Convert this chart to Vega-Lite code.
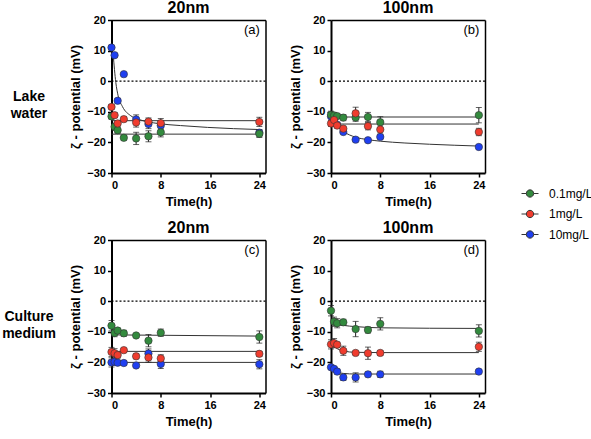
{
"$schema": "https://vega.github.io/schema/vega-lite/v6.json",
"padding": {"left": 2, "top": 0, "right": 0, "bottom": 5},
"config": {
  "font": "Liberation Sans",
  "view": {"stroke": null},
  "title": {"font": "Liberation Sans", "fontSize": 16, "fontWeight": "bold", "color": "black", "offset": -2},
  "axis": {"labelFont": "Liberation Sans", "labelFontSize": 11, "labelFontWeight": "bold", "labelColor": "black", "titleFont": "Liberation Sans", "titleFontSize": 13, "titleFontWeight": "bold", "titleColor": "black", "domainColor": "black", "domainWidth": 2, "tickColor": "black", "tickWidth": 1.5, "tickSize": 4, "grid": false, "labelPadding": 2},
  "axisX": {"titlePadding": 5},
  "axisY": {"titlePadding": 4},
  "legend": {"labelFont": "Liberation Sans", "labelFontSize": 12, "labelColor": "black"}
},
"data": {"values": [
{"k":"lab","m":"Lake water","s":"20nm","lab":"(a)"},
{"k":"lab","m":"Lake water","s":"100nm","lab":"(b)"},
{"k":"lab","m":"Culture medium","s":"20nm","lab":"(c)"},
{"k":"lab","m":"Culture medium","s":"100nm","lab":"(d)"},

{"k":"pt","m":"Lake water","s":"20nm","c":"10mg/L","t":0,"v":11.0,"e":0.5},
{"k":"pt","m":"Lake water","s":"20nm","c":"10mg/L","t":0.5,"v":8.5,"e":0.5},
{"k":"pt","m":"Lake water","s":"20nm","c":"10mg/L","t":1,"v":-6.4,"e":0.8},
{"k":"pt","m":"Lake water","s":"20nm","c":"10mg/L","t":2,"v":2.3,"e":0.5},
{"k":"pt","m":"Lake water","s":"20nm","c":"10mg/L","t":4,"v":-12.5,"e":1.5},
{"k":"pt","m":"Lake water","s":"20nm","c":"10mg/L","t":6,"v":-14.0,"e":1.5},
{"k":"pt","m":"Lake water","s":"20nm","c":"10mg/L","t":8,"v":-14.5,"e":1.5},
{"k":"pt","m":"Lake water","s":"20nm","c":"10mg/L","t":24,"v":-16.8,"e":1.0},
{"k":"pt","m":"Lake water","s":"20nm","c":"0.1mg/L","t":0,"v":-11.5,"e":0.8},
{"k":"pt","m":"Lake water","s":"20nm","c":"0.1mg/L","t":0.5,"v":-14.9,"e":1.2},
{"k":"pt","m":"Lake water","s":"20nm","c":"0.1mg/L","t":1,"v":-16.0,"e":1.0},
{"k":"pt","m":"Lake water","s":"20nm","c":"0.1mg/L","t":2,"v":-18.5,"e":0.8},
{"k":"pt","m":"Lake water","s":"20nm","c":"0.1mg/L","t":4,"v":-18.7,"e":2.0},
{"k":"pt","m":"Lake water","s":"20nm","c":"0.1mg/L","t":6,"v":-18.0,"e":1.8},
{"k":"pt","m":"Lake water","s":"20nm","c":"0.1mg/L","t":8,"v":-16.7,"e":1.5},
{"k":"pt","m":"Lake water","s":"20nm","c":"0.1mg/L","t":24,"v":-17.2,"e":1.2},
{"k":"pt","m":"Lake water","s":"20nm","c":"1mg/L","t":0,"v":-8.4,"e":0.7},
{"k":"pt","m":"Lake water","s":"20nm","c":"1mg/L","t":0.5,"v":-11.1,"e":0.8},
{"k":"pt","m":"Lake water","s":"20nm","c":"1mg/L","t":1,"v":-13.8,"e":0.8},
{"k":"pt","m":"Lake water","s":"20nm","c":"1mg/L","t":2,"v":-12.4,"e":0.8},
{"k":"pt","m":"Lake water","s":"20nm","c":"1mg/L","t":4,"v":-13.5,"e":1.5},
{"k":"pt","m":"Lake water","s":"20nm","c":"1mg/L","t":6,"v":-13.2,"e":1.2},
{"k":"pt","m":"Lake water","s":"20nm","c":"1mg/L","t":8,"v":-13.7,"e":1.5},
{"k":"pt","m":"Lake water","s":"20nm","c":"1mg/L","t":24,"v":-13.3,"e":1.5},

{"k":"pt","m":"Lake water","s":"100nm","c":"10mg/L","t":0,"v":-11.5,"e":0.5},
{"k":"pt","m":"Lake water","s":"100nm","c":"10mg/L","t":0.5,"v":-12.6,"e":0.5},
{"k":"pt","m":"Lake water","s":"100nm","c":"10mg/L","t":1,"v":-14.2,"e":0.5},
{"k":"pt","m":"Lake water","s":"100nm","c":"10mg/L","t":2,"v":-16.6,"e":0.5},
{"k":"pt","m":"Lake water","s":"100nm","c":"10mg/L","t":4,"v":-19.1,"e":0.5},
{"k":"pt","m":"Lake water","s":"100nm","c":"10mg/L","t":6,"v":-19.3,"e":0.5},
{"k":"pt","m":"Lake water","s":"100nm","c":"10mg/L","t":8,"v":-18.2,"e":0.5},
{"k":"pt","m":"Lake water","s":"100nm","c":"10mg/L","t":24,"v":-21.5,"e":0.5},
{"k":"pt","m":"Lake water","s":"100nm","c":"0.1mg/L","t":0,"v":-11.0,"e":1.2},
{"k":"pt","m":"Lake water","s":"100nm","c":"0.1mg/L","t":0.5,"v":-11.2,"e":1.0},
{"k":"pt","m":"Lake water","s":"100nm","c":"0.1mg/L","t":1,"v":-11.4,"e":0.8},
{"k":"pt","m":"Lake water","s":"100nm","c":"0.1mg/L","t":2,"v":-11.9,"e":1.0},
{"k":"pt","m":"Lake water","s":"100nm","c":"0.1mg/L","t":4,"v":-11.9,"e":1.2},
{"k":"pt","m":"Lake water","s":"100nm","c":"0.1mg/L","t":6,"v":-11.7,"e":1.5},
{"k":"pt","m":"Lake water","s":"100nm","c":"0.1mg/L","t":8,"v":-13.4,"e":1.8},
{"k":"pt","m":"Lake water","s":"100nm","c":"0.1mg/L","t":24,"v":-11.1,"e":2.5},
{"k":"pt","m":"Lake water","s":"100nm","c":"1mg/L","t":0,"v":-13.8,"e":1.0},
{"k":"pt","m":"Lake water","s":"100nm","c":"1mg/L","t":0.5,"v":-12.7,"e":1.0},
{"k":"pt","m":"Lake water","s":"100nm","c":"1mg/L","t":1,"v":-14.5,"e":0.8},
{"k":"pt","m":"Lake water","s":"100nm","c":"1mg/L","t":2,"v":-15.5,"e":0.8},
{"k":"pt","m":"Lake water","s":"100nm","c":"1mg/L","t":4,"v":-10.5,"e":2.0},
{"k":"pt","m":"Lake water","s":"100nm","c":"1mg/L","t":6,"v":-14.7,"e":1.2},
{"k":"pt","m":"Lake water","s":"100nm","c":"1mg/L","t":8,"v":-15.8,"e":1.5},
{"k":"pt","m":"Lake water","s":"100nm","c":"1mg/L","t":24,"v":-16.6,"e":1.2},

{"k":"pt","m":"Culture medium","s":"20nm","c":"10mg/L","t":0,"v":-20.0,"e":1.5},
{"k":"pt","m":"Culture medium","s":"20nm","c":"10mg/L","t":0.5,"v":-19.8,"e":1.0},
{"k":"pt","m":"Culture medium","s":"20nm","c":"10mg/L","t":1,"v":-20.1,"e":0.8},
{"k":"pt","m":"Culture medium","s":"20nm","c":"10mg/L","t":2,"v":-20.2,"e":0.8},
{"k":"pt","m":"Culture medium","s":"20nm","c":"10mg/L","t":4,"v":-21.0,"e":0.5},
{"k":"pt","m":"Culture medium","s":"20nm","c":"10mg/L","t":6,"v":-17.1,"e":1.5},
{"k":"pt","m":"Culture medium","s":"20nm","c":"10mg/L","t":8,"v":-20.5,"e":1.5},
{"k":"pt","m":"Culture medium","s":"20nm","c":"10mg/L","t":24,"v":-20.6,"e":1.5},
{"k":"pt","m":"Culture medium","s":"20nm","c":"0.1mg/L","t":0,"v":-8.0,"e":1.7},
{"k":"pt","m":"Culture medium","s":"20nm","c":"0.1mg/L","t":0.5,"v":-10.4,"e":1.2},
{"k":"pt","m":"Culture medium","s":"20nm","c":"0.1mg/L","t":1,"v":-9.6,"e":0.8},
{"k":"pt","m":"Culture medium","s":"20nm","c":"0.1mg/L","t":2,"v":-10.5,"e":1.0},
{"k":"pt","m":"Culture medium","s":"20nm","c":"0.1mg/L","t":4,"v":-11.2,"e":0.6},
{"k":"pt","m":"Culture medium","s":"20nm","c":"0.1mg/L","t":6,"v":-12.9,"e":2.0},
{"k":"pt","m":"Culture medium","s":"20nm","c":"0.1mg/L","t":8,"v":-10.3,"e":1.2},
{"k":"pt","m":"Culture medium","s":"20nm","c":"0.1mg/L","t":24,"v":-11.7,"e":2.0},
{"k":"pt","m":"Culture medium","s":"20nm","c":"1mg/L","t":0,"v":-16.6,"e":1.5},
{"k":"pt","m":"Culture medium","s":"20nm","c":"1mg/L","t":0.5,"v":-17.0,"e":1.5},
{"k":"pt","m":"Culture medium","s":"20nm","c":"1mg/L","t":1,"v":-17.6,"e":1.0},
{"k":"pt","m":"Culture medium","s":"20nm","c":"1mg/L","t":2,"v":-16.0,"e":0.6},
{"k":"pt","m":"Culture medium","s":"20nm","c":"1mg/L","t":4,"v":-18.0,"e":0.8},
{"k":"pt","m":"Culture medium","s":"20nm","c":"1mg/L","t":6,"v":-18.4,"e":1.5},
{"k":"pt","m":"Culture medium","s":"20nm","c":"1mg/L","t":8,"v":-18.7,"e":1.2},
{"k":"pt","m":"Culture medium","s":"20nm","c":"1mg/L","t":24,"v":-17.2,"e":0.8},

{"k":"pt","m":"Culture medium","s":"100nm","c":"10mg/L","t":0,"v":-21.6,"e":0.5},
{"k":"pt","m":"Culture medium","s":"100nm","c":"10mg/L","t":0.5,"v":-22.1,"e":0.5},
{"k":"pt","m":"Culture medium","s":"100nm","c":"10mg/L","t":1,"v":-23.0,"e":0.8},
{"k":"pt","m":"Culture medium","s":"100nm","c":"10mg/L","t":2,"v":-24.9,"e":1.0},
{"k":"pt","m":"Culture medium","s":"100nm","c":"10mg/L","t":4,"v":-24.9,"e":1.5},
{"k":"pt","m":"Culture medium","s":"100nm","c":"10mg/L","t":6,"v":-23.9,"e":0.8},
{"k":"pt","m":"Culture medium","s":"100nm","c":"10mg/L","t":8,"v":-23.9,"e":1.0},
{"k":"pt","m":"Culture medium","s":"100nm","c":"10mg/L","t":24,"v":-23.0,"e":0.6},
{"k":"pt","m":"Culture medium","s":"100nm","c":"0.1mg/L","t":0,"v":-3.1,"e":1.7},
{"k":"pt","m":"Culture medium","s":"100nm","c":"0.1mg/L","t":0.5,"v":-6.7,"e":1.5},
{"k":"pt","m":"Culture medium","s":"100nm","c":"0.1mg/L","t":1,"v":-7.2,"e":1.5},
{"k":"pt","m":"Culture medium","s":"100nm","c":"0.1mg/L","t":2,"v":-6.9,"e":1.0},
{"k":"pt","m":"Culture medium","s":"100nm","c":"0.1mg/L","t":4,"v":-9.1,"e":2.5},
{"k":"pt","m":"Culture medium","s":"100nm","c":"0.1mg/L","t":6,"v":-9.4,"e":1.0},
{"k":"pt","m":"Culture medium","s":"100nm","c":"0.1mg/L","t":8,"v":-7.4,"e":2.0},
{"k":"pt","m":"Culture medium","s":"100nm","c":"0.1mg/L","t":24,"v":-9.7,"e":2.0},
{"k":"pt","m":"Culture medium","s":"100nm","c":"1mg/L","t":0,"v":-14.1,"e":1.5},
{"k":"pt","m":"Culture medium","s":"100nm","c":"1mg/L","t":0.5,"v":-13.7,"e":1.5},
{"k":"pt","m":"Culture medium","s":"100nm","c":"1mg/L","t":1,"v":-14.2,"e":0.8},
{"k":"pt","m":"Culture medium","s":"100nm","c":"1mg/L","t":2,"v":-16.2,"e":1.5},
{"k":"pt","m":"Culture medium","s":"100nm","c":"1mg/L","t":4,"v":-16.9,"e":0.5},
{"k":"pt","m":"Culture medium","s":"100nm","c":"1mg/L","t":6,"v":-17.0,"e":2.0},
{"k":"pt","m":"Culture medium","s":"100nm","c":"1mg/L","t":8,"v":-16.9,"e":0.8},
{"k":"pt","m":"Culture medium","s":"100nm","c":"1mg/L","t":24,"v":-14.9,"e":1.5},

{"k":"fit","m":"Lake water","s":"20nm","c":"0.1mg/L","t":0,"v":-17.3},
{"k":"fit","m":"Lake water","s":"20nm","c":"0.1mg/L","t":24,"v":-17.3},
{"k":"fit","m":"Lake water","s":"20nm","c":"1mg/L","t":0,"v":-12.9},
{"k":"fit","m":"Lake water","s":"20nm","c":"1mg/L","t":24,"v":-12.9},
{"k":"fit","m":"Lake water","s":"20nm","c":"10mg/L","t":0.27,"v":8.8},
{"k":"fit","m":"Lake water","s":"20nm","c":"10mg/L","t":0.7,"v":-0.4},
{"k":"fit","m":"Lake water","s":"20nm","c":"10mg/L","t":1.08,"v":-4.8},
{"k":"fit","m":"Lake water","s":"20nm","c":"10mg/L","t":1.78,"v":-8.3},
{"k":"fit","m":"Lake water","s":"20nm","c":"10mg/L","t":3.13,"v":-11.3},
{"k":"fit","m":"Lake water","s":"20nm","c":"10mg/L","t":4.75,"v":-12.7},
{"k":"fit","m":"Lake water","s":"20nm","c":"10mg/L","t":7.46,"v":-13.8},
{"k":"fit","m":"Lake water","s":"20nm","c":"10mg/L","t":11.2,"v":-14.5},
{"k":"fit","m":"Lake water","s":"20nm","c":"10mg/L","t":15.6,"v":-15.1},
{"k":"fit","m":"Lake water","s":"20nm","c":"10mg/L","t":24,"v":-15.8},

{"k":"fit","m":"Lake water","s":"100nm","c":"0.1mg/L","t":0,"v":-11.7},
{"k":"fit","m":"Lake water","s":"100nm","c":"0.1mg/L","t":24,"v":-11.7},
{"k":"fit","m":"Lake water","s":"100nm","c":"1mg/L","t":0,"v":-14.0},
{"k":"fit","m":"Lake water","s":"100nm","c":"1mg/L","t":24,"v":-14.0},
{"k":"fit","m":"Lake water","s":"100nm","c":"10mg/L","t":0,"v":-12.5},
{"k":"fit","m":"Lake water","s":"100nm","c":"10mg/L","t":0.5,"v":-13.5},
{"k":"fit","m":"Lake water","s":"100nm","c":"10mg/L","t":1,"v":-14.6},
{"k":"fit","m":"Lake water","s":"100nm","c":"10mg/L","t":2,"v":-16.4},
{"k":"fit","m":"Lake water","s":"100nm","c":"10mg/L","t":4,"v":-18.3},
{"k":"fit","m":"Lake water","s":"100nm","c":"10mg/L","t":6,"v":-19.1},
{"k":"fit","m":"Lake water","s":"100nm","c":"10mg/L","t":8,"v":-19.6},
{"k":"fit","m":"Lake water","s":"100nm","c":"10mg/L","t":12,"v":-20.2},
{"k":"fit","m":"Lake water","s":"100nm","c":"10mg/L","t":16,"v":-20.6},
{"k":"fit","m":"Lake water","s":"100nm","c":"10mg/L","t":24,"v":-21.2},

{"k":"fit","m":"Culture medium","s":"20nm","c":"0.1mg/L","t":0,"v":-11.0},
{"k":"fit","m":"Culture medium","s":"20nm","c":"0.1mg/L","t":24,"v":-11.4},
{"k":"fit","m":"Culture medium","s":"20nm","c":"1mg/L","t":0,"v":-16.4},
{"k":"fit","m":"Culture medium","s":"20nm","c":"1mg/L","t":24,"v":-16.4},
{"k":"fit","m":"Culture medium","s":"20nm","c":"10mg/L","t":0,"v":-20.0},
{"k":"fit","m":"Culture medium","s":"20nm","c":"10mg/L","t":24,"v":-20.0},

{"k":"fit","m":"Culture medium","s":"100nm","c":"0.1mg/L","t":0.3,"v":-7.0},
{"k":"fit","m":"Culture medium","s":"100nm","c":"0.1mg/L","t":1,"v":-7.5},
{"k":"fit","m":"Culture medium","s":"100nm","c":"0.1mg/L","t":2,"v":-7.9},
{"k":"fit","m":"Culture medium","s":"100nm","c":"0.1mg/L","t":4,"v":-8.3},
{"k":"fit","m":"Culture medium","s":"100nm","c":"0.1mg/L","t":8,"v":-8.7},
{"k":"fit","m":"Culture medium","s":"100nm","c":"0.1mg/L","t":24,"v":-8.9},
{"k":"fit","m":"Culture medium","s":"100nm","c":"1mg/L","t":0,"v":-13.9},
{"k":"fit","m":"Culture medium","s":"100nm","c":"1mg/L","t":0.5,"v":-14.8},
{"k":"fit","m":"Culture medium","s":"100nm","c":"1mg/L","t":1,"v":-15.5},
{"k":"fit","m":"Culture medium","s":"100nm","c":"1mg/L","t":2,"v":-16.3},
{"k":"fit","m":"Culture medium","s":"100nm","c":"1mg/L","t":4,"v":-16.7},
{"k":"fit","m":"Culture medium","s":"100nm","c":"1mg/L","t":8,"v":-16.8},
{"k":"fit","m":"Culture medium","s":"100nm","c":"1mg/L","t":24,"v":-16.8},
{"k":"fit","m":"Culture medium","s":"100nm","c":"10mg/L","t":0,"v":-21.5},
{"k":"fit","m":"Culture medium","s":"100nm","c":"10mg/L","t":0.5,"v":-22.5},
{"k":"fit","m":"Culture medium","s":"100nm","c":"10mg/L","t":1,"v":-23.1},
{"k":"fit","m":"Culture medium","s":"100nm","c":"10mg/L","t":2,"v":-23.6},
{"k":"fit","m":"Culture medium","s":"100nm","c":"10mg/L","t":4,"v":-23.8},
{"k":"fit","m":"Culture medium","s":"100nm","c":"10mg/L","t":24,"v":-23.8}
]},
"spacing": 12,
"vconcat": [
{"bounds": "flush", "spacing": 65.5, "hconcat": [
 {"width": 34, "height": 153, "transform": [{"filter": "datum.k === 'lab' && datum.s === '20nm' && datum.m === 'Lake water'"}],
  "mark": {"type": "text", "lineBreak": " ", "fontSize": 14, "fontWeight": "bold", "align": "center", "baseline": "middle", "lineHeight": 17, "color": "black"},
  "encoding": {"text": {"field": "m"}}},
 {"width": 154, "height": 153, "title": "20nm",
  "transform": [{"filter": "datum.m === 'Lake water' && datum.s === '20nm'"}],
  "resolve": {"axis": {"x": "independent", "y": "independent"}},
  "layer": [
   {"transform": [{"filter": "datum.k === 'lab'"}], "mark": {"type": "point", "opacity": 0}, "encoding": {"x": {"datum": 0, "type": "quantitative", "scale": {"domain": [0, 25], "nice": false, "zero": false}, "axis": {"orient": "top", "labels": false, "ticks": false, "title": null, "domainWidth": 1.5}}, "y": {"datum": 0, "type": "quantitative", "scale": {"domain": [-30, 20], "nice": false}, "axis": {"orient": "right", "labels": false, "ticks": false, "title": null, "domainWidth": 1.5}}}},
   {"transform": [{"filter": "datum.k === 'lab'"}], "mark": {"type": "rule", "color": "black", "strokeDash": [2, 2], "strokeWidth": 1.2}, "encoding": {"y": {"datum": 0, "type": "quantitative", "scale": {"domain": [-30, 20], "nice": false}, "axis": null}}},
   {"transform": [{"filter": "datum.k === 'fit'"}], "mark": {"type": "line", "color": "#333", "strokeWidth": 1, "interpolate": "monotone"}, "encoding": {"x": {"field": "t", "type": "quantitative", "scale": {"domain": [0, 25], "nice": false, "zero": false}, "axis": null}, "y": {"field": "v", "type": "quantitative", "scale": {"domain": [-30, 20], "nice": false}, "axis": null}, "detail": {"field": "c"}}},
   {"transform": [{"filter": "datum.k === 'pt'"}], "mark": {"type": "errorbar", "ticks": true, "size": 6, "thickness": 1, "color": "#222"}, "encoding": {"x": {"field": "t", "type": "quantitative", "scale": {"domain": [0, 25], "nice": false, "zero": false}, "axis": null}, "y": {"field": "v", "type": "quantitative", "scale": {"domain": [-30, 20], "nice": false}, "axis": null}, "yError": {"field": "e"}}},
   {"transform": [{"filter": "datum.k === 'pt'"}], "mark": {"type": "circle", "size": 55, "opacity": 1, "stroke": "#333", "strokeWidth": 0.6},
    "encoding": {
     "x": {"field": "t", "type": "quantitative", "scale": {"domain": [0, 25], "nice": false, "zero": false}, "axis": {"values": [0, 8, 16, 24], "title": "Time(h)"}},
     "y": {"field": "v", "type": "quantitative", "scale": {"domain": [-30, 20], "nice": false}, "axis": {"values": [-30, -20, -10, 0, 10, 20], "title": "ζ - potential (mV)"}},
     "color": {"field": "c", "type": "nominal", "scale": {"domain": ["0.1mg/L", "1mg/L", "10mg/L"], "range": ["#338a3e", "#f03c2e", "#1f3ff0"]},
      "legend": {"title": null, "orient": "none", "legendX": 509, "legendY": 164.5, "symbolType": "M-1,0L-0.43,0M0.43,0L1,0M-0.43,0A0.43,0.43,0,1,1,0.43,0A0.43,0.43,0,1,1,-0.43,0Z", "symbolSize": 289, "symbolStrokeColor": "#333", "symbolStrokeWidth": 1, "symbolOpacity": 1, "rowPadding": 5.5, "labelOffset": 10}}}},
   {"transform": [{"filter": "datum.k === 'lab'"}], "mark": {"type": "text", "fontSize": 13, "color": "black"}, "encoding": {"x": {"datum": 22.8, "type": "quantitative", "scale": {"domain": [0, 25], "nice": false, "zero": false}, "axis": null}, "y": {"datum": 16.8, "type": "quantitative", "scale": {"domain": [-30, 20], "nice": false}, "axis": null}, "text": {"field": "lab"}}}
  ]},
 {"width": 154, "height": 153, "title": "100nm",
  "transform": [{"filter": "datum.m === 'Lake water' && datum.s === '100nm'"}],
  "resolve": {"axis": {"x": "independent", "y": "independent"}},
  "layer": [
   {"transform": [{"filter": "datum.k === 'lab'"}], "mark": {"type": "point", "opacity": 0}, "encoding": {"x": {"datum": 0, "type": "quantitative", "scale": {"domain": [0, 25], "nice": false, "zero": false}, "axis": {"orient": "top", "labels": false, "ticks": false, "title": null, "domainWidth": 1.5}}, "y": {"datum": 0, "type": "quantitative", "scale": {"domain": [-30, 20], "nice": false}, "axis": {"orient": "right", "labels": false, "ticks": false, "title": null, "domainWidth": 1.5}}}},
   {"transform": [{"filter": "datum.k === 'lab'"}], "mark": {"type": "rule", "color": "black", "strokeDash": [2, 2], "strokeWidth": 1.2}, "encoding": {"y": {"datum": 0, "type": "quantitative", "scale": {"domain": [-30, 20], "nice": false}, "axis": null}}},
   {"transform": [{"filter": "datum.k === 'fit'"}], "mark": {"type": "line", "color": "#333", "strokeWidth": 1, "interpolate": "monotone"}, "encoding": {"x": {"field": "t", "type": "quantitative", "scale": {"domain": [0, 25], "nice": false, "zero": false}, "axis": null}, "y": {"field": "v", "type": "quantitative", "scale": {"domain": [-30, 20], "nice": false}, "axis": null}, "detail": {"field": "c"}}},
   {"transform": [{"filter": "datum.k === 'pt'"}], "mark": {"type": "errorbar", "ticks": true, "size": 6, "thickness": 1, "color": "#222"}, "encoding": {"x": {"field": "t", "type": "quantitative", "scale": {"domain": [0, 25], "nice": false, "zero": false}, "axis": null}, "y": {"field": "v", "type": "quantitative", "scale": {"domain": [-30, 20], "nice": false}, "axis": null}, "yError": {"field": "e"}}},
   {"transform": [{"filter": "datum.k === 'pt'"}], "mark": {"type": "circle", "size": 55, "opacity": 1, "stroke": "#333", "strokeWidth": 0.6},
    "encoding": {
     "x": {"field": "t", "type": "quantitative", "scale": {"domain": [0, 25], "nice": false, "zero": false}, "axis": {"values": [0, 8, 16, 24], "title": "Time(h)"}},
     "y": {"field": "v", "type": "quantitative", "scale": {"domain": [-30, 20], "nice": false}, "axis": {"values": [-30, -20, -10, 0, 10, 20], "title": "ζ - potential (mV)"}},
     "color": {"field": "c", "type": "nominal", "scale": {"domain": ["0.1mg/L", "1mg/L", "10mg/L"], "range": ["#338a3e", "#f03c2e", "#1f3ff0"]},
      "legend": {"title": null, "orient": "none", "legendX": 509, "legendY": 164.5, "symbolType": "M-1,0L-0.43,0M0.43,0L1,0M-0.43,0A0.43,0.43,0,1,1,0.43,0A0.43,0.43,0,1,1,-0.43,0Z", "symbolSize": 289, "symbolStrokeColor": "#333", "symbolStrokeWidth": 1, "symbolOpacity": 1, "rowPadding": 5.5, "labelOffset": 10}}}},
   {"transform": [{"filter": "datum.k === 'lab'"}], "mark": {"type": "text", "fontSize": 13, "color": "black"}, "encoding": {"x": {"datum": 22.8, "type": "quantitative", "scale": {"domain": [0, 25], "nice": false, "zero": false}, "axis": null}, "y": {"datum": 16.8, "type": "quantitative", "scale": {"domain": [-30, 20], "nice": false}, "axis": null}, "text": {"field": "lab"}}}
  ]}
]},
{"bounds": "flush", "spacing": 65.5, "hconcat": [
 {"width": 34, "height": 153, "transform": [{"filter": "datum.k === 'lab' && datum.s === '20nm' && datum.m === 'Culture medium'"}],
  "mark": {"type": "text", "lineBreak": " ", "fontSize": 14, "fontWeight": "bold", "align": "center", "baseline": "middle", "lineHeight": 17, "color": "black"},
  "encoding": {"text": {"field": "m"}}},
 {"width": 154, "height": 153, "title": "20nm",
  "transform": [{"filter": "datum.m === 'Culture medium' && datum.s === '20nm'"}],
  "resolve": {"axis": {"x": "independent", "y": "independent"}},
  "layer": [
   {"transform": [{"filter": "datum.k === 'lab'"}], "mark": {"type": "point", "opacity": 0}, "encoding": {"x": {"datum": 0, "type": "quantitative", "scale": {"domain": [0, 25], "nice": false, "zero": false}, "axis": {"orient": "top", "labels": false, "ticks": false, "title": null, "domainWidth": 1.5}}, "y": {"datum": 0, "type": "quantitative", "scale": {"domain": [-30, 20], "nice": false}, "axis": {"orient": "right", "labels": false, "ticks": false, "title": null, "domainWidth": 1.5}}}},
   {"transform": [{"filter": "datum.k === 'lab'"}], "mark": {"type": "rule", "color": "black", "strokeDash": [2, 2], "strokeWidth": 1.2}, "encoding": {"y": {"datum": 0, "type": "quantitative", "scale": {"domain": [-30, 20], "nice": false}, "axis": null}}},
   {"transform": [{"filter": "datum.k === 'fit'"}], "mark": {"type": "line", "color": "#333", "strokeWidth": 1, "interpolate": "monotone"}, "encoding": {"x": {"field": "t", "type": "quantitative", "scale": {"domain": [0, 25], "nice": false, "zero": false}, "axis": null}, "y": {"field": "v", "type": "quantitative", "scale": {"domain": [-30, 20], "nice": false}, "axis": null}, "detail": {"field": "c"}}},
   {"transform": [{"filter": "datum.k === 'pt'"}], "mark": {"type": "errorbar", "ticks": true, "size": 6, "thickness": 1, "color": "#222"}, "encoding": {"x": {"field": "t", "type": "quantitative", "scale": {"domain": [0, 25], "nice": false, "zero": false}, "axis": null}, "y": {"field": "v", "type": "quantitative", "scale": {"domain": [-30, 20], "nice": false}, "axis": null}, "yError": {"field": "e"}}},
   {"transform": [{"filter": "datum.k === 'pt'"}], "mark": {"type": "circle", "size": 55, "opacity": 1, "stroke": "#333", "strokeWidth": 0.6},
    "encoding": {
     "x": {"field": "t", "type": "quantitative", "scale": {"domain": [0, 25], "nice": false, "zero": false}, "axis": {"values": [0, 8, 16, 24], "title": "Time(h)"}},
     "y": {"field": "v", "type": "quantitative", "scale": {"domain": [-30, 20], "nice": false}, "axis": {"values": [-30, -20, -10, 0, 10, 20], "title": "ζ - potential (mV)"}},
     "color": {"field": "c", "type": "nominal", "scale": {"domain": ["0.1mg/L", "1mg/L", "10mg/L"], "range": ["#338a3e", "#f03c2e", "#1f3ff0"]},
      "legend": {"title": null, "orient": "none", "legendX": 509, "legendY": 164.5, "symbolType": "M-1,0L-0.43,0M0.43,0L1,0M-0.43,0A0.43,0.43,0,1,1,0.43,0A0.43,0.43,0,1,1,-0.43,0Z", "symbolSize": 289, "symbolStrokeColor": "#333", "symbolStrokeWidth": 1, "symbolOpacity": 1, "rowPadding": 5.5, "labelOffset": 10}}}},
   {"transform": [{"filter": "datum.k === 'lab'"}], "mark": {"type": "text", "fontSize": 13, "color": "black"}, "encoding": {"x": {"datum": 22.8, "type": "quantitative", "scale": {"domain": [0, 25], "nice": false, "zero": false}, "axis": null}, "y": {"datum": 16.8, "type": "quantitative", "scale": {"domain": [-30, 20], "nice": false}, "axis": null}, "text": {"field": "lab"}}}
  ]},
 {"width": 154, "height": 153, "title": "100nm",
  "transform": [{"filter": "datum.m === 'Culture medium' && datum.s === '100nm'"}],
  "resolve": {"axis": {"x": "independent", "y": "independent"}},
  "layer": [
   {"transform": [{"filter": "datum.k === 'lab'"}], "mark": {"type": "point", "opacity": 0}, "encoding": {"x": {"datum": 0, "type": "quantitative", "scale": {"domain": [0, 25], "nice": false, "zero": false}, "axis": {"orient": "top", "labels": false, "ticks": false, "title": null, "domainWidth": 1.5}}, "y": {"datum": 0, "type": "quantitative", "scale": {"domain": [-30, 20], "nice": false}, "axis": {"orient": "right", "labels": false, "ticks": false, "title": null, "domainWidth": 1.5}}}},
   {"transform": [{"filter": "datum.k === 'lab'"}], "mark": {"type": "rule", "color": "black", "strokeDash": [2, 2], "strokeWidth": 1.2}, "encoding": {"y": {"datum": 0, "type": "quantitative", "scale": {"domain": [-30, 20], "nice": false}, "axis": null}}},
   {"transform": [{"filter": "datum.k === 'fit'"}], "mark": {"type": "line", "color": "#333", "strokeWidth": 1, "interpolate": "monotone"}, "encoding": {"x": {"field": "t", "type": "quantitative", "scale": {"domain": [0, 25], "nice": false, "zero": false}, "axis": null}, "y": {"field": "v", "type": "quantitative", "scale": {"domain": [-30, 20], "nice": false}, "axis": null}, "detail": {"field": "c"}}},
   {"transform": [{"filter": "datum.k === 'pt'"}], "mark": {"type": "errorbar", "ticks": true, "size": 6, "thickness": 1, "color": "#222"}, "encoding": {"x": {"field": "t", "type": "quantitative", "scale": {"domain": [0, 25], "nice": false, "zero": false}, "axis": null}, "y": {"field": "v", "type": "quantitative", "scale": {"domain": [-30, 20], "nice": false}, "axis": null}, "yError": {"field": "e"}}},
   {"transform": [{"filter": "datum.k === 'pt'"}], "mark": {"type": "circle", "size": 55, "opacity": 1, "stroke": "#333", "strokeWidth": 0.6},
    "encoding": {
     "x": {"field": "t", "type": "quantitative", "scale": {"domain": [0, 25], "nice": false, "zero": false}, "axis": {"values": [0, 8, 16, 24], "title": "Time(h)"}},
     "y": {"field": "v", "type": "quantitative", "scale": {"domain": [-30, 20], "nice": false}, "axis": {"values": [-30, -20, -10, 0, 10, 20], "title": "ζ - potential (mV)"}},
     "color": {"field": "c", "type": "nominal", "scale": {"domain": ["0.1mg/L", "1mg/L", "10mg/L"], "range": ["#338a3e", "#f03c2e", "#1f3ff0"]},
      "legend": {"title": null, "orient": "none", "legendX": 509, "legendY": 164.5, "symbolType": "M-1,0L-0.43,0M0.43,0L1,0M-0.43,0A0.43,0.43,0,1,1,0.43,0A0.43,0.43,0,1,1,-0.43,0Z", "symbolSize": 289, "symbolStrokeColor": "#333", "symbolStrokeWidth": 1, "symbolOpacity": 1, "rowPadding": 5.5, "labelOffset": 10}}}},
   {"transform": [{"filter": "datum.k === 'lab'"}], "mark": {"type": "text", "fontSize": 13, "color": "black"}, "encoding": {"x": {"datum": 22.8, "type": "quantitative", "scale": {"domain": [0, 25], "nice": false, "zero": false}, "axis": null}, "y": {"datum": 16.8, "type": "quantitative", "scale": {"domain": [-30, 20], "nice": false}, "axis": null}, "text": {"field": "lab"}}}
  ]}
]}
]
}
